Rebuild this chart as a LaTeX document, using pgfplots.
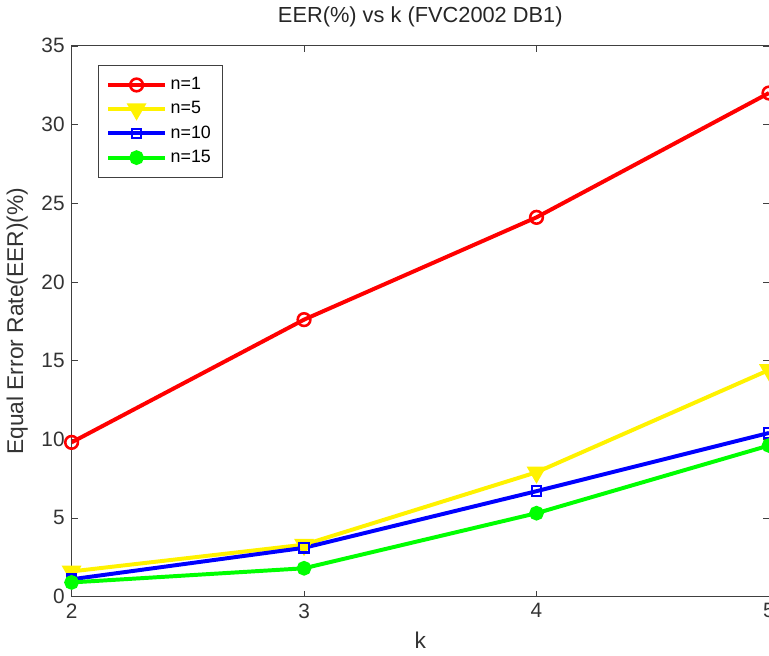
\documentclass[border=0pt]{standalone}
\usepackage{fontspec}
\setmainfont{Liberation Sans}
\usepackage{pgfplots}
\pgfplotsset{compat=1.18}

\begin{document}
\begin{tikzpicture}[trim axis right]
\begin{axis}[
    width=352pt, height=278pt,
    scale only axis,
    xmin=2, xmax=5, ymin=0, ymax=35,
    xtick={2,3,4,5}, ytick={0,5,...,35},
    /pgf/number format/assume math mode=true,
    tick label style={font=\fontsize{10.5}{12}\selectfont, text=black!80},
    label style={font=\fontsize{11.5}{13}\selectfont, text=black!80},
    title style={font=\fontsize{11}{13}\selectfont, text=black!85},
    title={EER(\%) vs k (FVC2002 DB1)},
    xlabel={k}, ylabel={Equal Error Rate(EER)(\%)},
    axis line style={black!75},
    tick style={black!75},
    tick align=inside,
    major tick length=3pt,
    legend style={at={(0.038,0.965)}, anchor=north west, draw=black!75,
        font=\fontsize{9}{11}\selectfont, row sep=0.5pt, inner sep=4pt},
    legend cell align=left,
    legend image code/.code={
        \draw[mark repeat=2,mark phase=2] plot coordinates {(0cm,0cm) (0.5cm,0cm) (1cm,0cm)};},
    every axis plot/.append style={line width=2pt},
]
\addplot[red, mark=o, mark size=3.2pt, mark options={line width=1.3pt}]
    coordinates {(2,9.8) (3,17.6) (4,24.1) (5,32.0)};
\addplot[yellow, mark=triangle*, mark size=3.8pt, mark options={rotate=180}]
    coordinates {(2,1.6) (3,3.3) (4,7.9) (5,14.4)};
\addplot[blue, mark=square, mark size=2.4pt, mark options={line width=1.1pt}]
    coordinates {(2,1.1) (3,3.1) (4,6.7) (5,10.4)};
\addplot[green, mark=*, mark size=2.7pt]
    coordinates {(2,0.9) (3,1.8) (4,5.3) (5,9.6)};
\legend{n=1, n=5, n=10, n=15}
\end{axis}
\end{tikzpicture}
\end{document}
